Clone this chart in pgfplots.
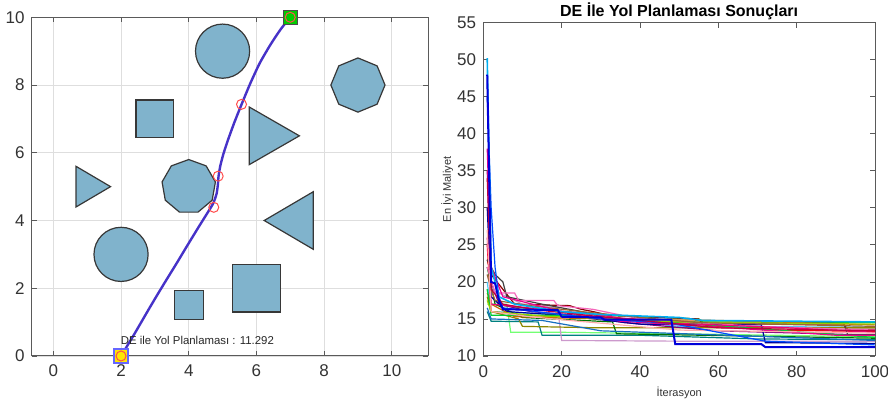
\documentclass[border=0pt]{standalone}
\usepackage{fontspec}
\setmainfont{Liberation Sans}
\usepackage{pgfplots}
\pgfplotsset{compat=1.18}

\definecolor{obst}{RGB}{128,179,204}
\definecolor{obstedge}{RGB}{55,55,55}
\definecolor{pathcol}{RGB}{70,50,200}
\definecolor{axcol}{RGB}{90,90,90}

\pgfplotsset{
  matbox/.style={
    scale only axis,
    anchor=south west,
    axis line style={axcol, line width=0.5pt},
    tick style={axcol, line width=0.4pt},
    major tick length=2.5pt,
    tick align=inside,
    /pgf/number format/assume math mode=true,
    tick label style={font=\fontsize{8.5}{9}\selectfont, text=black!80},
    xticklabel style={yshift=-1pt},
  }
}

\begin{document}
\begin{tikzpicture}
\useasboundingbox (0,0) rectangle (444pt,202.5pt);

% ---------- left: path and obstacles ----------
\begin{axis}[
  matbox,
  at={(15.85pt,24.5pt)},
  width=198.15pt, height=169.35pt,
  xmin=-0.64, xmax=11.07, ymin=0, ymax=10,
  xtick={0,2,...,10}, ytick={0,2,...,10},
  grid=major,
  major grid style={draw=black!13, line width=0.4pt},
  clip=false,
]
% squares
\addplot[fill=obst, draw=obstedge, line width=0.6pt] coordinates {(2.44,6.44)(3.56,6.44)(3.56,7.56)(2.44,7.56)} -- cycle;
\addplot[fill=obst, draw=obstedge, line width=0.6pt] coordinates {(3.57,1.07)(4.43,1.07)(4.43,1.93)(3.57,1.93)} -- cycle;
\addplot[fill=obst, draw=obstedge, line width=0.6pt] coordinates {(5.30,1.30)(6.70,1.30)(6.70,2.70)(5.30,2.70)} -- cycle;
% triangles
\addplot[fill=obst, draw=obstedge, line width=0.6pt] coordinates {(0.67,5.6)(0.67,4.4)(1.69,5.0)} -- cycle;
\addplot[fill=obst, draw=obstedge, line width=0.6pt] coordinates {(5.79,7.35)(5.79,5.65)(7.27,6.5)} -- cycle;
\addplot[fill=obst, draw=obstedge, line width=0.6pt] coordinates {(6.23,4.0)(7.68,4.85)(7.68,3.15)} -- cycle;
% octagon and nonagon
\addplot[fill=obst, draw=obstedge, line width=0.6pt] coordinates {(9.8,8)(9.566,8.566)(9,8.8)(8.434,8.566)(8.2,8)(8.434,7.434)(9,7.2)(9.566,7.434)} -- cycle;
\addplot[fill=obst, draw=obstedge, line width=0.6pt] coordinates {(4,5.8)(3.486,5.613)(3.212,5.139)(3.307,4.6)(3.726,4.248)(4.274,4.248)(4.693,4.6)(4.788,5.139)(4.514,5.613)} -- cycle;
% circles (radius 0.8)
\addplot[only marks, mark=*, mark size=13.54pt, mark options={fill=obst, draw=obstedge, line width=0.6pt}] coordinates {(5,9)(2,3)};
% path
\addplot[pathcol, line width=1.2pt, smooth, tension=0.4] coordinates {
(2,0)(2.4,0.66)(2.86,1.45)(3.25,2.1)(3.65,2.75)(4.0,3.33)(4.3,3.82)(4.55,4.22)(4.72,4.5)(4.82,4.78)(4.86,5.05)(4.88,5.3)(4.93,5.6)(5.02,5.95)(5.15,6.35)(5.35,6.9)(5.57,7.45)(5.82,8.05)(6.1,8.65)(6.42,9.2)(6.72,9.65)(7,10)};
% start / goal
\addplot[only marks, mark=square*, mark size=3.5pt, mark options={fill=yellow!90!orange, draw=blue!60, line width=0.6pt}] coordinates {(2,0)};
\addplot[only marks, mark=square*, mark size=3.5pt, mark options={fill=green!80!black, draw=black!70, line width=0.6pt}] coordinates {(7,10)};
% waypoints
\addplot[only marks, mark=o, mark size=2.5pt, mark options={draw=red!70, line width=0.5pt}] coordinates {(2,0)(4.74,4.39)(4.87,5.31)(5.56,7.43)(7,10)};
\node[anchor=west, font=\fontsize{5.7}{7}\selectfont, text=black!85, inner sep=0pt] at (axis cs:1.98,0.46) {DE ile Yol Planlaması : 11.292};
\end{axis}

% ---------- right: convergence ----------
\begin{axis}[
  matbox,
  at={(241.65pt,24.5pt)},
  width=195.85pt, height=166.65pt,
  xmin=0, xmax=100, ymin=10, ymax=55,
  xtick={0,20,...,100}, ytick={10,15,...,55},
  xlabel={İterasyon}, ylabel={En İyi Maliyet},
  label style={font=\fontsize{5.5}{6.5}\selectfont, text=black!80},
  xlabel style={yshift=2pt},
  ylabel style={yshift=-5pt},
  line width=0.6pt,
  clip=false,
]
\addplot[color=green!85!black] coordinates {(1,19)(2,17)(10,16.5)(30,15.5)(55,15)(56,14.6)(100,14.5)};
\addplot[color=cyan!70] coordinates {(1,20)(2,16)(20,15.6)(50,14)(100,13.9)};
\addplot[color=red!55!black] coordinates {(1,23)(2,21)(5,19)(8,17)(22,16.8)(25,16.3)(28,16)(32,15.5)(55,15)(56,14.3)(92,14.3)(93,13.6)(100,13.6)};
\addplot[color=red] coordinates {(1,25)(2,16)(10,15.5)(40,15)(60,14)(75,13.5)(100,13.3)};
\addplot[color=green!55] coordinates {(1,17)(6,17)(7,13.2)(20,13.2)(50,13)(100,12.6)};
\addplot[color=teal] coordinates {(1,16)(2,14.7)(14,14.6)(15,12.8)(40,12.8)(70,12.3)(100,12.2)};
\addplot[color=violet!40] coordinates {(1,21)(2,19)(10,17)(19,16.5)(20,12.1)(50,12)(100,12)};
\addplot[color=olive] coordinates {(1,18)(2,16)(9,15)(10,14)(30,13.8)(100,13.8)};
\addplot[color=green!45!black] coordinates {(1,22)(3,17)(10,15.2)(33,14.6)(34,13)(100,12.4)};
\addplot[color=violet] coordinates {(1,35)(2,20)(4,17)(12,16)(24,15.5)(36,14.5)(60,13.4)(100,12.8)};
\addplot[color=blue!60!black] coordinates {(1,30)(2,18)(6,16)(20,15.5)(40,14.3)(71,14.2)(72,11.8)(100,11.7)};
\addplot[color=black!75] coordinates {(1,23)(3,21)(5,20)(6,18)(15,17)(25,16)(33,15)(60,14.5)(92,14.4)(93,12.9)(100,12.9)};
\addplot[color=orange!80!black] coordinates {(1,18.5)(2,17)(8,15.3)(30,15)(60,14.8)(100,14.2)};
\addplot[color=cyan!50!blue] coordinates {(1,16.5)(2,15)(15,14.8)(30,13.4)(100,12.1)};
\addplot[color=green!60!teal] coordinates {(1,19)(2,15.5)(20,15.5)(55,14.3)(100,12.5)};
\addplot[color=magenta!60] coordinates {(1,22)(3,18.5)(8,18.5)(9,17.5)(18,17.5)(19,16.8)(28,16.3)(40,15)(70,14)(100,13.5)};
\addplot[color=magenta!80!red] coordinates {(1,26)(2,17)(25,15.8)(45,14.5)(78,13.8)(100,13.2)};
\addplot[color=lime!80!black] coordinates {(1,17.5)(2,16)(15,15.4)(50,14.6)(100,14.3)};
\addplot[color=brown!80!black] coordinates {(1,21)(2,19)(3,17.5)(12,16.8)(25,16)(40,15.2)(55,14.5)(100,14)};
\addplot[color=magenta] coordinates {(1,38)(2,22)(5,18)(20,16)(35,14.7)(66,13.7)(90,12.8)(100,12.8)};
\addplot[color=pink!90!red] coordinates {(1,27)(2,16)(12,15.3)(22,14.8)(50,13.5)(100,13.1)};
\addplot[color=blue!70!cyan] coordinates {(1,45)(2,30)(3,22)(4,18)(5,16.5)(30,15)(48,14.4)(72,12)(100,11.5)};
\addplot[color=purple] coordinates {(1,34)(2,19)(5,17)(14,16.2)(30,15.3)(60,13.8)(100,13.4)};
\addplot[color=cyan, line width=0.8pt] coordinates {(1,50.2)(2,22)(4,18)(8,17)(20,16)(30,15.6)(50,15.2)(56,14.8)(100,14.6)};
\addplot[color=blue!85!black, line width=1pt] coordinates {(1,48)(2,20)(3,19.8)(4,17.5)(5,16.3)(19,16.2)(20,15.3)(30,15.2)(31,14.9)(48,14.9)(49,11.6)(71,11.6)(72,11.2)(100,11.2)};
\node[anchor=base, font=\fontsize{8}{9}\selectfont\bfseries, inner sep=0pt, yshift=3pt] at (rel axis cs:0.5,1) {DE İle Yol Planlaması Sonuçları};
\end{axis}
\end{tikzpicture}
\end{document}
